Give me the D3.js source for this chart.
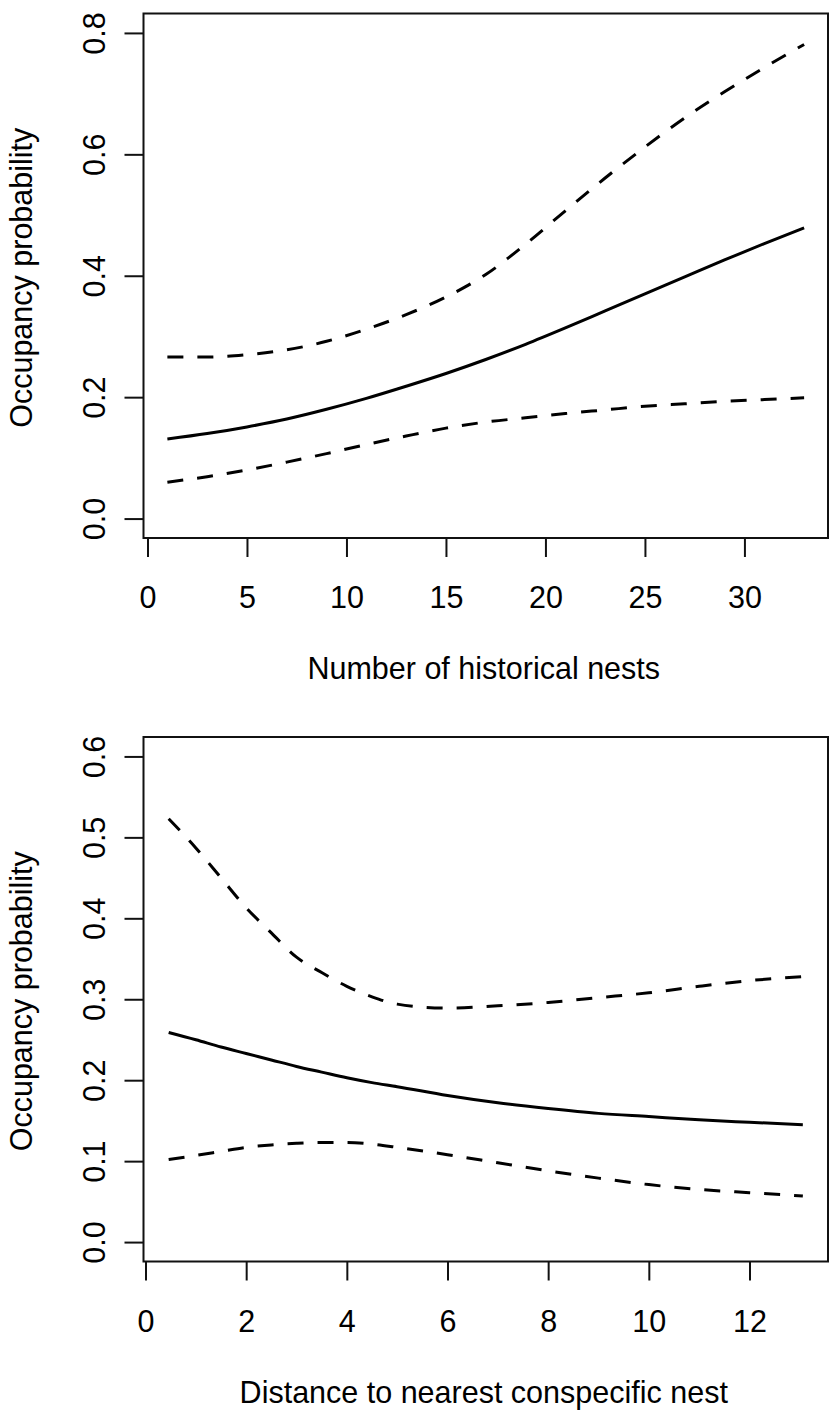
<!DOCTYPE html>
<html lang="en">
<head>
<meta charset="utf-8">
<title>Occupancy probability</title>
<script src="https://d3js.org/d3.v7.min.js"></script>
<style type="text/css">
body {
	margin: 0;
	background: #fff;
}
text {
	font-family: "Liberation Sans", Arial, sans-serif;
	font-size: 30.5px;
	fill: #000;
}
</style>
</head>
<body>
<script type="text/javascript">

// Top panel: number of historical nests
var nests      = [1, 3, 5, 7, 9, 11, 13, 15, 17, 19, 21, 23, 25, 27, 29, 31, 33];
var nestsFit   = [0.131, 0.140, 0.151, 0.164, 0.180, 0.198, 0.218, 0.239, 0.262, 0.287, 0.314, 0.342, 0.370, 0.398, 0.426, 0.453, 0.479];
var nestsLower = [0.060, 0.069, 0.080, 0.093, 0.107, 0.122, 0.136, 0.149, 0.159, 0.166, 0.173, 0.179, 0.185, 0.189, 0.193, 0.196, 0.199];
var nestsUpper = [0.266, 0.266, 0.270, 0.278, 0.292, 0.312, 0.336, 0.365, 0.402, 0.452, 0.507, 0.561, 0.612, 0.660, 0.703, 0.743, 0.781];
var nestsXTicks = [0, 5, 10, 15, 20, 25, 30];
var nestsYTicks = [0, 0.2, 0.4, 0.6, 0.8];

// Bottom panel: distance to nearest conspecific nest
var distance  = [0.46, 1, 1.5, 2, 2.5, 3, 3.5, 4, 4.5, 5, 6, 7, 8, 9, 10, 11, 12, 13.06];
var distFit   = [0.259, 0.250, 0.241, 0.233, 0.225, 0.217, 0.210, 0.203, 0.197, 0.192, 0.181, 0.172, 0.165, 0.159, 0.155, 0.151, 0.148, 0.145];
var distLower = [0.102, 0.107, 0.112, 0.117, 0.120, 0.122, 0.123, 0.123, 0.121, 0.117, 0.108, 0.098, 0.088, 0.079, 0.071, 0.065, 0.061, 0.057];
var distUpper = [0.523, 0.487, 0.450, 0.413, 0.382, 0.352, 0.333, 0.316, 0.303, 0.294, 0.289, 0.292, 0.296, 0.302, 0.308, 0.316, 0.323, 0.328];
var distXTicks = [0, 2, 4, 6, 8, 10, 12];
var distYTicks = [0, 0.1, 0.2, 0.3, 0.4, 0.5, 0.6];

var yTitle = "Occupancy probability";

const width = 833;
const height = 1416;
const left = 143.5;
const right = 828;

var svg = d3.select("body")
	.append("svg")
	.attr("width", width)
	.attr("height", height);

svg.append("rect")
	.attr("width", width)
	.attr("height", height)
	.attr("fill", "#fff");

function drawPanel(top, bottom, xDomain, yDomain, xs, fit, lower, upper, xTicks, yTicks, xTitle) {
	var x = d3.scaleLinear().domain(xDomain).range([left, right]);
	var y = d3.scaleLinear().domain(yDomain).range([bottom, top]);

	var g = svg.append("g");

	// x axis, R style: long ticks, labels well below
	var xAxis = g.append("g")
		.attr("transform", "translate(0," + bottom + ")")
		.call(d3.axisBottom(x).tickValues(xTicks).tickSize(19).tickSizeOuter(0).tickFormat(d3.format("d")));
	xAxis.select(".domain").remove();
	xAxis.selectAll("line").attr("stroke", "#111").attr("stroke-width", 2);
	xAxis.selectAll("text").attr("y", 70).attr("dy", 0);

	// y axis with rotated labels
	var yAxis = g.append("g")
		.attr("transform", "translate(" + left + ",0)")
		.call(d3.axisLeft(y).tickValues(yTicks).tickSize(19).tickSizeOuter(0).tickFormat(d3.format(".1f")));
	yAxis.select(".domain").remove();
	yAxis.selectAll("line").attr("stroke", "#111").attr("stroke-width", 2);
	yAxis.selectAll("text")
		.attr("transform", "rotate(-90)")
		.attr("x", 0)
		.attr("y", -38.5)
		.attr("dy", 0)
		.attr("text-anchor", "middle");

	// curves
	var line = function(vals) {
		return d3.line()
			.x(function(d, i) { return x(xs[i]); })
			.y(function(d) { return y(d); })
			.curve(d3.curveMonotoneX)(vals);
	};

	[lower, upper].forEach(function(vals) {
		g.append("path")
			.attr("d", line(vals))
			.attr("fill", "none")
			.attr("stroke", "#000")
			.attr("stroke-width", 3)
			.attr("stroke-dasharray", "16,14");
	});

	g.append("path")
		.attr("d", line(fit))
		.attr("fill", "none")
		.attr("stroke", "#000")
		.attr("stroke-width", 3);

	// box
	g.append("rect")
		.attr("x", left)
		.attr("y", top)
		.attr("width", right - left)
		.attr("height", bottom - top)
		.attr("fill", "none")
		.attr("stroke", "#111")
		.attr("stroke-width", 2);

	// titles
	g.append("text")
		.attr("x", (left + right) / 2 - 2)
		.attr("y", bottom + 141)
		.attr("text-anchor", "middle")
		.text(xTitle);

	g.append("text")
		.attr("transform", "translate(32," + ((top + bottom) / 2 + 2) + ") rotate(-90)")
		.attr("text-anchor", "middle")
		.text(yTitle);
}

drawPanel(13.5, 538, [-0.2, 34.2], [-0.032, 0.832],
	nests, nestsFit, nestsLower, nestsUpper, nestsXTicks, nestsYTicks, "Number of historical nests");

drawPanel(737, 1261.5, [-0.04, 13.56], [-0.024, 0.624],
	distance, distFit, distLower, distUpper, distXTicks, distYTicks, "Distance to nearest conspecific nest");

</script>
</body>
</html>
